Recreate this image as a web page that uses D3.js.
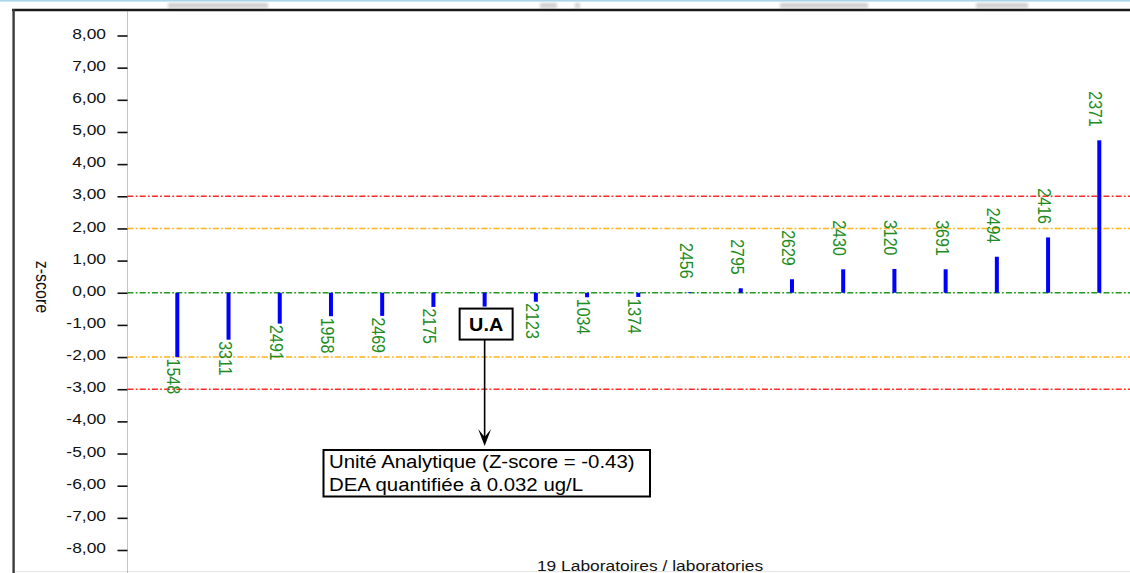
<!DOCTYPE html>
<html>
<head>
<meta charset="utf-8">
<script src="https://cdn.jsdelivr.net/npm/d3@7"></script>
<style>
  html, body { margin: 0; padding: 0; background: #fff; }
  svg { display: block; }
  text { font-family: "Liberation Sans", Arial, sans-serif; }
</style>
</head>
<body>
<svg id="chart" width="1130" height="573"></svg>
<script>
// Laboratory codes in plotting order (sorted by z-score)
const labs = ["1548", "3311", "2491", "1958", "2469", "2175", "U.A", "2123", "1034", "1374",
              "2456", "2795", "2629", "2430", "3120", "3691", "2494", "2416", "2371"];
// z-score of each laboratory
const zscores = [-2.00, -1.46, -0.96, -0.73, -0.72, -0.44, -0.43, -0.28, -0.14, -0.13,
                 0.02, 0.14, 0.42, 0.73, 0.74, 0.73, 1.12, 1.72, 4.74];
// y-axis tick values
const yTicks = d3.range(-8, 9, 1);
// acceptance limits: value, colour
const limitValues = [3, 2, 0, -2, -3];
const limitColors = ["#ff2b2b", "#ffb31a", "#1f9a1f", "#ffb31a", "#ff2b2b"];
// annotation texts
const highlightLab = "U.A";
const noteLines = ["Unité Analytique (Z-score = -0.43)", "DEA quantifiée à 0.032 ug/L"];
const xTitle = "19 Laboratoires / laboratories";
const yTitle = "z-score";

const svg = d3.select("#chart");
const W = 1130, H = 573;
const axisX = 127.5;
const plotRight = 1130;

const x = d3.scalePoint().domain(labs).range([177.3, 1099.3]);
const y = d3.scaleLinear().domain([-8, 8]).range([550, 35.5]);

const fr = d3.formatLocale({ decimal: ",", thousands: " ", grouping: [3], currency: ["", ""], minus: "-" });
const fmt = fr.format(".2f");

// window chrome: light blue strip and blurred caption remnants
const defs = svg.append("defs");
defs.append("filter").attr("id", "soft").append("feGaussianBlur").attr("stdDeviation", 1.5);
svg.append("rect").attr("x", 0).attr("y", 0).attr("width", W).attr("height", 1.6).attr("fill", "#a9d6ea");
const smudges = [[168, 100], [540, 17], [575, 5], [780, 88], [976, 52]];
svg.append("g").attr("filter", "url(#soft)")
  .selectAll("rect").data(smudges).join("rect")
  .attr("x", d => d[0]).attr("y", 3).attr("width", d => d[1]).attr("height", 5)
  .attr("fill", "#cfcfcf");

// frame
svg.append("line").attr("x1", 12).attr("x2", W).attr("y1", 10).attr("y2", 10)
  .attr("stroke", "#1a1a1a").attr("stroke-width", 2.6);
svg.append("line").attr("x1", 13.6).attr("x2", 13.6).attr("y1", 9).attr("y2", H)
  .attr("stroke", "#3a3a3a").attr("stroke-width", 2.4);
svg.append("line").attr("x1", 15).attr("x2", W).attr("y1", 571.5).attr("y2", 571.5)
  .attr("stroke", "#e4e4e4").attr("stroke-width", 1);

// y axis: dotted spine, ticks and labels
svg.append("line").attr("x1", axisX).attr("x2", axisX).attr("y1", 11.5).attr("y2", H)
  .attr("stroke", "#8a8a8a").attr("stroke-width", 1).attr("stroke-dasharray", "1,1");

const yAxis = d3.axisLeft(y).tickValues(yTicks).tickSize(10).tickFormat(fmt);
const gy = svg.append("g").attr("transform", `translate(${axisX},0)`).call(yAxis);
gy.select(".domain").remove();
gy.selectAll(".tick line").attr("stroke", "#111").attr("stroke-width", 1.6);
gy.selectAll(".tick text")
  .attr("x", null).attr("dy", null)
  .attr("transform", "translate(-21.5,2.6) scale(1.13,1)")
  .attr("text-anchor", "end")
  .attr("font-size", 15.4)
  .attr("fill", "#111");

// y title, rotated
svg.append("text")
  .attr("transform", "translate(35.5,287) rotate(90) scale(1,1.15)")
  .attr("text-anchor", "middle").attr("font-size", 16)
  .attr("fill", "#111").text(yTitle);

// x title
svg.append("text")
  .attr("transform", "translate(650,570.5) scale(1.13,1)")
  .attr("text-anchor", "middle").attr("font-size", 15.4)
  .attr("fill", "#111").text(xTitle);

// limit lines
svg.append("g").selectAll("line").data(limitValues).join("line")
  .attr("x1", axisX).attr("x2", plotRight)
  .attr("y1", d => y(d)).attr("y2", d => y(d))
  .attr("stroke", (d, i) => limitColors[i])
  .attr("stroke-width", 1.5)
  .attr("stroke-dasharray", "6,2.2,1.8,2.2");

// bars
const data = labs.map((lab, i) => ({ lab, z: zscores[i] }));
svg.append("g").selectAll("rect").data(data).join("rect")
  .attr("x", d => x(d.lab) - 2)
  .attr("width", 4)
  .attr("y", d => Math.min(y(0), y(d.z)))
  .attr("height", d => Math.abs(y(d.z) - y(0)))
  .attr("fill", "#0000ff");

// laboratory codes, rotated, beyond the bar end
svg.append("g").selectAll("text").data(data.filter(d => d.lab !== highlightLab)).join("text")
  .attr("transform", d => {
    const yy = d.z < 0 ? y(d.z) + 1.5 : y(d.z) - 13.5;
    return `translate(${x(d.lab) - 10},${yy}) rotate(90) scale(1,1.18)`;
  })
  .attr("text-anchor", d => d.z < 0 ? "start" : "end")
  .attr("font-size", 16)
  .attr("fill", "#1e8c1e")
  .text(d => d.lab);

// highlighted unit: label box, arrow and note
const hx = x(highlightLab);
const hz = zscores[labs.indexOf(highlightLab)];
const boxTop = y(hz) + 2;
svg.append("rect").attr("x", hx - 25).attr("y", boxTop).attr("width", 53).attr("height", 31)
  .attr("fill", "#fff").attr("stroke", "#000").attr("stroke-width", 2);
svg.append("text")
  .attr("transform", `translate(${hx + 1.5},${boxTop + 22}) scale(1.1,1)`)
  .attr("text-anchor", "middle").attr("font-size", 18).attr("font-weight", "bold")
  .attr("fill", "#000").text(highlightLab);

const arrowTop = boxTop + 31, arrowTip = 446;
svg.append("line").attr("x1", hx).attr("x2", hx).attr("y1", arrowTop).attr("y2", arrowTip - 6)
  .attr("stroke", "#000").attr("stroke-width", 1.6);
svg.append("path")
  .attr("d", `M${hx},${arrowTip} L${hx - 6.5},${arrowTip - 17} L${hx},${arrowTip - 9} L${hx + 6.5},${arrowTip - 17} Z`)
  .attr("fill", "#000");

svg.append("rect").attr("x", 323.5).attr("y", 450).attr("width", 326.5).attr("height", 46.5)
  .attr("fill", "#fff").attr("stroke", "#000").attr("stroke-width", 2);
svg.append("g").selectAll("text").data(noteLines).join("text")
  .attr("transform", (d, i) => `translate(329,${468 + i * 23}) scale(1.16,1)`)
  .attr("font-size", 17.6).attr("fill", "#000")
  .text(d => d);
</script>
</body>
</html>
